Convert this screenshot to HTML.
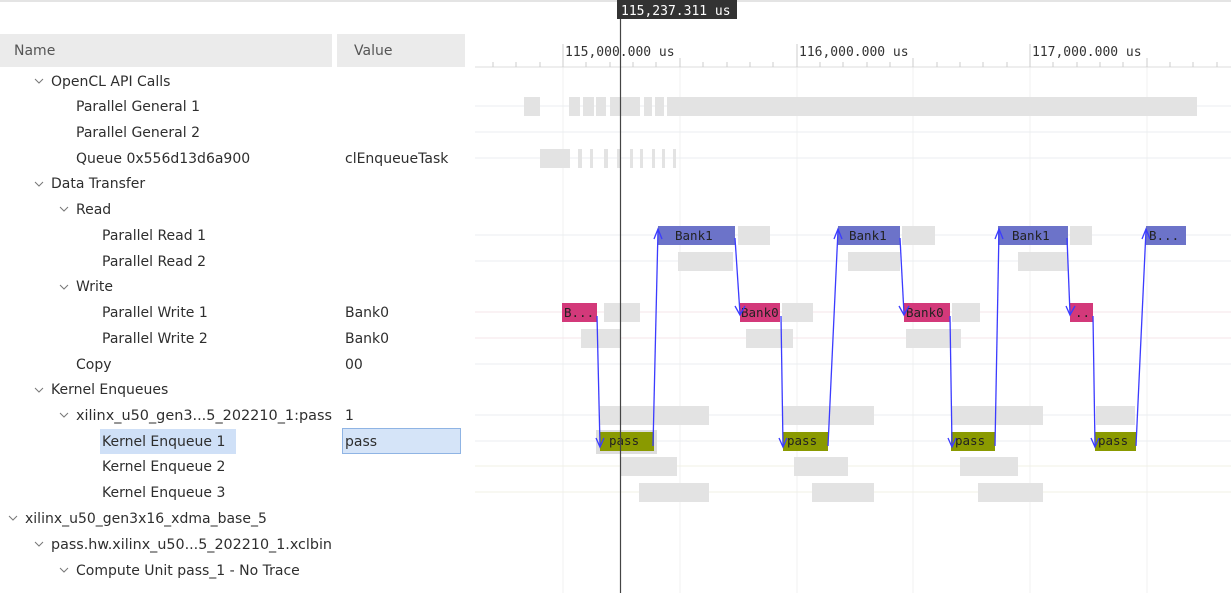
<!DOCTYPE html>
<html><head><meta charset="utf-8"><style>
body{margin:0;background:#fff;}
svg{display:block;font-family:"DejaVu Sans","Liberation Sans",sans-serif;}
</style></head><body>
<svg width="1231" height="593" viewBox="0 0 1231 593" xmlns="http://www.w3.org/2000/svg">
<rect x="0" y="0" width="1231" height="593" fill="#fff"/>
<line x1="0" y1="1" x2="1231" y2="1" stroke="#e4e4e4" stroke-width="2"/>
<rect x="0" y="34" width="332" height="33" fill="#ebebeb"/>
<rect x="337" y="34" width="128" height="33" fill="#ebebeb"/>
<g font-size="14" fill="#555"><text x="14" y="55">Name</text><text x="354" y="55">Value</text></g>
<rect x="100" y="429" width="136" height="25" fill="#cfe0f7"/>
<rect x="342.5" y="428.5" width="118" height="25" fill="#d5e4f8" stroke="#8fb4e4"/>
<g fill="none" stroke="#777" stroke-width="1">
<polyline points="35,79 39,83 43,79"/>
<polyline points="35,182 39,186 43,182"/>
<polyline points="60,207 64,211 68,207"/>
<polyline points="60,285 64,289 68,285"/>
<polyline points="35,388 39,392 43,388"/>
<polyline points="60,413 64,417 68,413"/>
<polyline points="9,516 13,520 17,516"/>
<polyline points="35,542 39,546 43,542"/>
<polyline points="60,568 64,572 68,568"/>
</g>
<g font-size="14" fill="#2e2e2e">
<text x="51" y="86">OpenCL API Calls</text>
<text x="76" y="111">Parallel General 1</text>
<text x="76" y="137">Parallel General 2</text>
<text x="76" y="163">Queue 0x556d13d6a900</text>
<text x="345" y="163">clEnqueueTask</text>
<text x="51" y="188">Data Transfer</text>
<text x="76" y="214">Read</text>
<text x="102" y="240">Parallel Read 1</text>
<text x="102" y="266">Parallel Read 2</text>
<text x="76" y="291">Write</text>
<text x="102" y="317">Parallel Write 1</text>
<text x="345" y="317">Bank0</text>
<text x="102" y="343">Parallel Write 2</text>
<text x="345" y="343">Bank0</text>
<text x="76" y="369">Copy</text>
<text x="345" y="369">00</text>
<text x="51" y="394">Kernel Enqueues</text>
<text x="76" y="420" textLength="256" lengthAdjust="spacingAndGlyphs">xilinx_u50_gen3...5_202210_1:pass</text>
<text x="345" y="420">1</text>
<text x="102" y="446">Kernel Enqueue 1</text>
<text x="345" y="446">pass</text>
<text x="102" y="471">Kernel Enqueue 2</text>
<text x="102" y="497">Kernel Enqueue 3</text>
<text x="25" y="523">xilinx_u50_gen3x16_xdma_base_5</text>
<text x="51" y="549" textLength="281" lengthAdjust="spacingAndGlyphs">pass.hw.xilinx_u50...5_202210_1.xclbin</text>
<text x="76" y="575">Compute Unit pass_1 - No Trace</text>
</g>
<g stroke="#f0f0f0" stroke-width="1">
<line x1="563" y1="67" x2="563" y2="593"/><line x1="797" y1="67" x2="797" y2="593"/><line x1="1030" y1="67" x2="1030" y2="593"/>
<line x1="680" y1="67" x2="680" y2="593"/><line x1="913" y1="67" x2="913" y2="593"/><line x1="1147" y1="67" x2="1147" y2="593"/>
</g>
<g stroke="#ebeef0" stroke-width="1">
<line x1="475" y1="106" x2="1231" y2="106"/><line x1="475" y1="132" x2="1231" y2="132"/><line x1="475" y1="158" x2="1231" y2="158"/>
<line x1="475" y1="235" x2="1231" y2="235"/><line x1="475" y1="261" x2="1231" y2="261"/>
<line x1="475" y1="312" x2="1231" y2="312" stroke="#f6e4ea"/><line x1="475" y1="338" x2="1231" y2="338" stroke="#f6e4ea"/>
<line x1="475" y1="364" x2="1231" y2="364"/><line x1="475" y1="415" x2="1231" y2="415"/>
<line x1="475" y1="441" x2="1231" y2="441"/><line x1="475" y1="466" x2="1231" y2="466" stroke="#f1f1e6"/><line x1="475" y1="492" x2="1231" y2="492" stroke="#f1f1e6"/>
</g>
<line x1="475" y1="67" x2="1231" y2="67" stroke="#ddd"/>
<g stroke="#ccc">
<line x1="563" y1="44" x2="563" y2="67"/><line x1="797" y1="44" x2="797" y2="67"/><line x1="1030" y1="44" x2="1030" y2="67"/>
<line x1="493" y1="62" x2="493" y2="67"/><line x1="516" y1="62" x2="516" y2="67"/><line x1="540" y1="62" x2="540" y2="67"/>
<line x1="586" y1="62" x2="586" y2="67"/><line x1="610" y1="62" x2="610" y2="67"/><line x1="633" y1="62" x2="633" y2="67"/><line x1="656" y1="62" x2="656" y2="67"/><line x1="680" y1="58" x2="680" y2="67"/><line x1="703" y1="62" x2="703" y2="67"/><line x1="727" y1="62" x2="727" y2="67"/><line x1="750" y1="62" x2="750" y2="67"/><line x1="773" y1="62" x2="773" y2="67"/>
<line x1="820" y1="62" x2="820" y2="67"/><line x1="843" y1="62" x2="843" y2="67"/><line x1="867" y1="62" x2="867" y2="67"/><line x1="890" y1="62" x2="890" y2="67"/><line x1="913" y1="58" x2="913" y2="67"/><line x1="937" y1="62" x2="937" y2="67"/><line x1="960" y1="62" x2="960" y2="67"/><line x1="983" y1="62" x2="983" y2="67"/><line x1="1007" y1="62" x2="1007" y2="67"/>
<line x1="1053" y1="62" x2="1053" y2="67"/><line x1="1077" y1="62" x2="1077" y2="67"/><line x1="1100" y1="62" x2="1100" y2="67"/><line x1="1123" y1="62" x2="1123" y2="67"/><line x1="1147" y1="58" x2="1147" y2="67"/><line x1="1170" y1="62" x2="1170" y2="67"/><line x1="1193" y1="62" x2="1193" y2="67"/><line x1="1217" y1="62" x2="1217" y2="67"/>
</g>
<g font-family="'DejaVu Sans Mono','Liberation Mono',monospace" font-size="13" fill="#333">
<text x="565" y="56">115,000.000 us</text><text x="799" y="56">116,000.000 us</text><text x="1032" y="56">117,000.000 us</text>
</g>
<g fill="#e3e3e3">
<rect x="524" y="97" width="16" height="19"/><rect x="569" y="97" width="11" height="19"/><rect x="583" y="97" width="11" height="19"/><rect x="596" y="97" width="10" height="19"/><rect x="610" y="97" width="30" height="19"/><rect x="644" y="97" width="8" height="19"/><rect x="655" y="97" width="9" height="19"/><rect x="667" y="97" width="530" height="19"/>
<rect x="540" y="149" width="30" height="19"/><rect x="578" y="149" width="4" height="19"/><rect x="590" y="149" width="3" height="19"/><rect x="604" y="149" width="4" height="19"/><rect x="617" y="149" width="3" height="19"/><rect x="630" y="149" width="3" height="19"/><rect x="640" y="149" width="3" height="19"/><rect x="652" y="149" width="3" height="19"/><rect x="662" y="149" width="3" height="19"/><rect x="673" y="149" width="3" height="19"/>
<rect x="738" y="226" width="32" height="19"/><rect x="902" y="226" width="33" height="19"/><rect x="1070" y="226" width="22" height="19"/>
<rect x="678" y="252" width="55" height="19"/><rect x="848" y="252" width="52" height="19"/><rect x="1018" y="252" width="50" height="19"/>
<rect x="604" y="303" width="36" height="19"/><rect x="782" y="303" width="31" height="19"/><rect x="952" y="303" width="28" height="19"/>
<rect x="581" y="329" width="39" height="19"/><rect x="746" y="329" width="47" height="19"/><rect x="906" y="329" width="55" height="19"/>
<rect x="600" y="406" width="109" height="19"/><rect x="783" y="406" width="91" height="19"/><rect x="952" y="406" width="91" height="19"/><rect x="1096" y="406" width="39" height="19"/>
<rect x="620" y="457" width="57" height="19"/><rect x="794" y="457" width="54" height="19"/><rect x="960" y="457" width="58" height="19"/>
<rect x="639" y="483" width="70" height="19"/><rect x="812" y="483" width="62" height="19"/><rect x="978" y="483" width="65" height="19"/>
</g>
<rect x="596" y="430" width="61" height="24" fill="#ddd"/>
<g fill="#6c73c9"><rect x="658" y="226" width="77" height="19"/><rect x="838" y="226" width="62" height="19"/><rect x="998" y="226" width="70" height="19"/><rect x="1146" y="226" width="40" height="19"/></g>
<g fill="#d3397a"><rect x="562" y="303" width="35" height="19"/><rect x="740" y="303" width="40" height="19"/><rect x="904" y="303" width="46" height="19"/><rect x="1070" y="303" width="23" height="19"/></g>
<g fill="#8a9a00"><rect x="600" y="432" width="54" height="19"/><rect x="783" y="432" width="45" height="19"/><rect x="951" y="432" width="44" height="19"/><rect x="1095" y="432" width="41" height="19"/></g>
<g font-family="'DejaVu Sans Mono','Liberation Mono',monospace" font-size="12.5" fill="#222">
<text x="675" y="240">Bank1</text><text x="849" y="240">Bank1</text><text x="1012" y="240">Bank1</text><text x="1149" y="240">B...</text>
<text x="564" y="317">B...</text><text x="741" y="317">Bank0</text><text x="906" y="317">Bank0</text><text x="1075" y="317">..</text>
<text x="609" y="445">pass</text><text x="787" y="445">pass</text><text x="955" y="445">pass</text><text x="1098" y="445">pass</text>
</g>
<g stroke="#3b3bff" stroke-width="1.3" fill="none">
<line x1="597" y1="316" x2="600" y2="446"/><polyline points="596,438 600,447 604,438"/>
<line x1="653" y1="446" x2="658" y2="230"/><polyline points="654,239 658,229 662,239"/>
<line x1="735" y1="238" x2="740" y2="314"/><polyline points="735,306 740,315 745,306"/>
<line x1="781" y1="316" x2="783" y2="446"/><polyline points="779,438 783,447 787,438"/>
<line x1="828" y1="446" x2="838" y2="230"/><polyline points="834,239 838,229 842,239"/>
<line x1="900" y1="238" x2="904" y2="314"/><polyline points="899,306 904,315 909,306"/>
<line x1="950" y1="316" x2="952" y2="446"/><polyline points="948,438 952,447 956,438"/>
<line x1="995" y1="446" x2="999" y2="230"/><polyline points="995,239 999,229 1003,239"/>
<line x1="1067" y1="238" x2="1070" y2="314"/><polyline points="1066,306 1070,315 1075,306"/>
<line x1="1093" y1="316" x2="1095" y2="446"/><polyline points="1091,438 1095,447 1099,438"/>
<line x1="1136" y1="446" x2="1146" y2="230"/><polyline points="1142,239 1146,229 1150,239"/>
</g>
<line x1="620.5" y1="18" x2="620.5" y2="593" stroke="#444" stroke-width="1.2"/>
<rect x="617" y="0" width="120" height="19" fill="#333"/>
<text x="621" y="15" font-family="'DejaVu Sans Mono','Liberation Mono',monospace" font-size="13" fill="#fff">115,237.311 us</text>
</svg>
</body></html>
